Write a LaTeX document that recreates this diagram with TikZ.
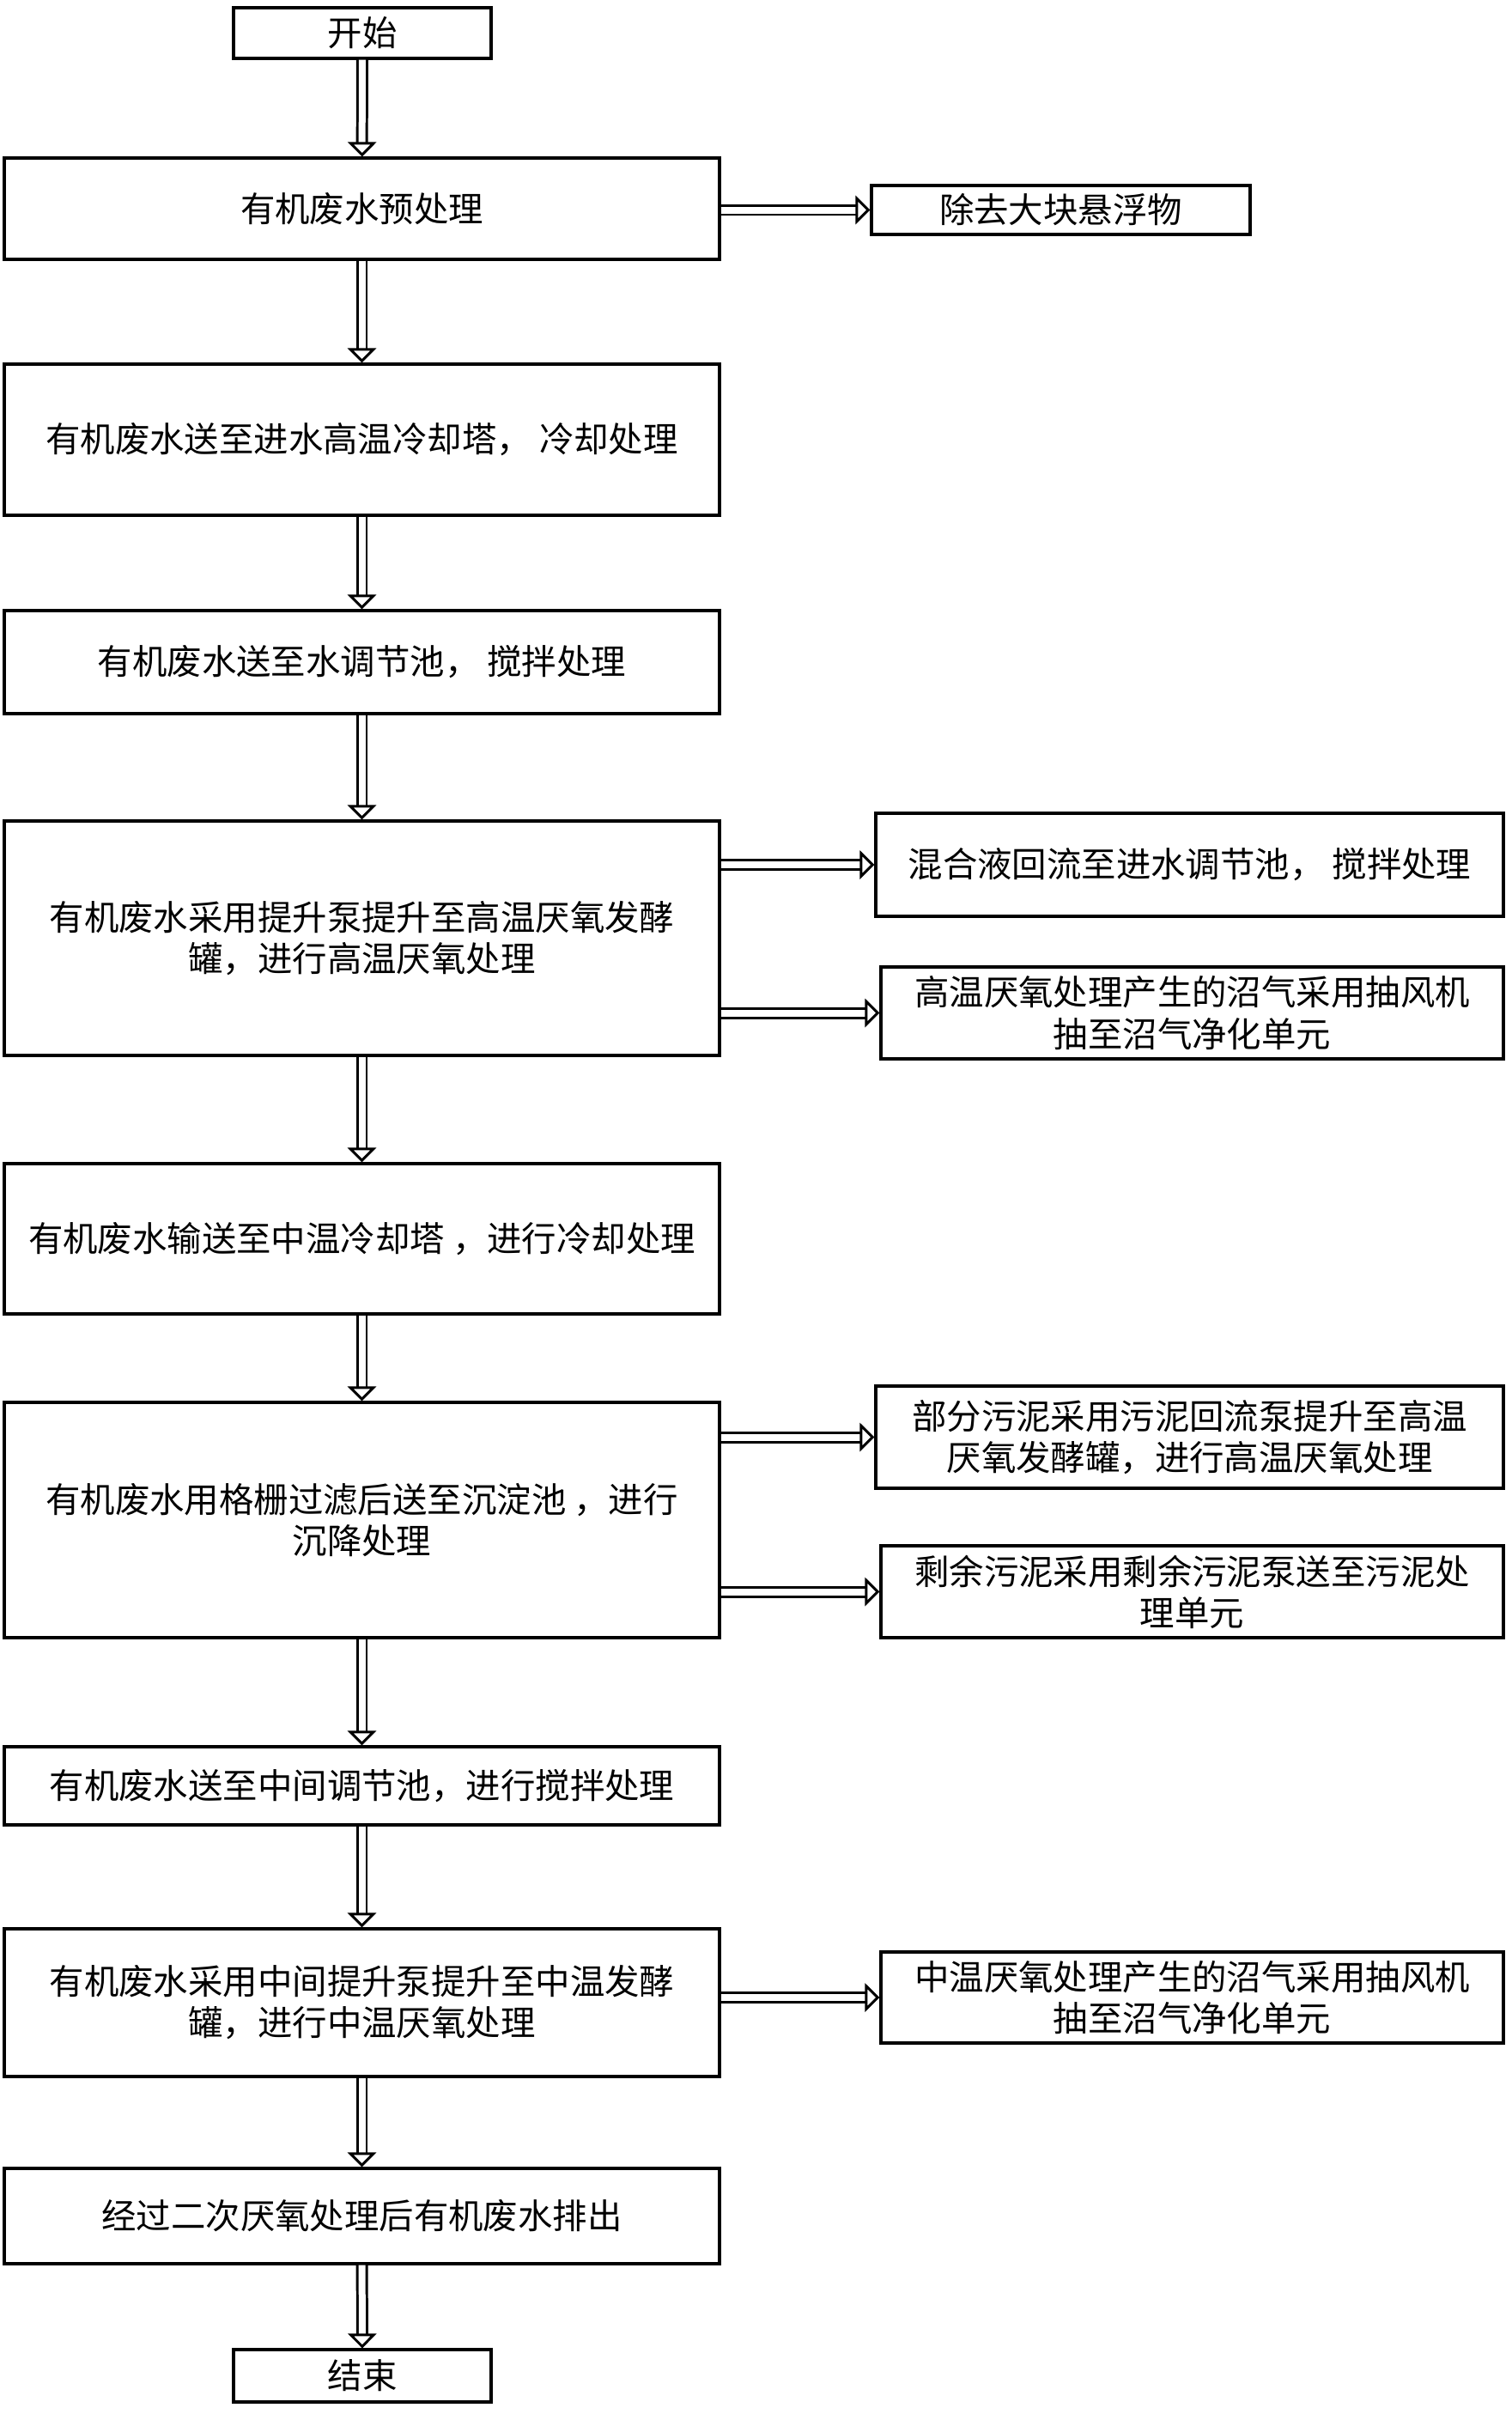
\documentclass[tikz,border=0pt]{standalone}
\usepackage{fontspec}
\setmainfont{Noto Sans CJK SC}
\usepackage{tikz}
\usetikzlibrary{arrows.meta,positioning}

\tikzset{
  stepbox/.style={draw, line width=0.9pt, minimum width=8.33cm, align=center, inner sep=0pt,
    font=\fontsize{11.5pt}{13.7pt}\selectfont},
  sidebox/.style={draw, line width=0.9pt, align=center, inner sep=0pt,
    font=\fontsize{11.5pt}{13.7pt}\selectfont},
  flow/.style={double, line width=0.85pt, double distance=0.08cm,
    -{Triangle[open, fill=white, length=0.17cm, width=0.33cm, line width=0.85pt]}},
}

\begin{document}
\begin{tikzpicture}
            \useasboundingbox (0, 0) rectangle (17.6, -28.11);
            \node[stepbox, minimum width=3cm, minimum height=0.59cm] (start) at (4.22, -0.385) {开始};
            \node[stepbox, minimum height=1.18cm] (pre) at (4.215, -2.43) {有机废水预处理};
            \node[sidebox, minimum width=4.41cm, minimum height=0.57cm] (solid) at (12.355, -2.445) {除去大块悬浮物};
            \node[stepbox, minimum height=1.76cm] (cool1) at (4.215, -5.12) {有机废水送至进水高温冷却塔， 冷却处理};
            \node[stepbox, minimum height=1.2cm] (tank1) at (4.215, -7.71) {有机废水送至水调节池， 搅拌处理};
            \node[stepbox, minimum height=2.73cm] (hot) at (4.215, -10.925) {有机废水采用提升泵提升至高温厌氧发酵\\罐，进行高温厌氧处理};
            \node[sidebox, minimum width=7.31cm, minimum height=1.2cm] (mix) at (13.855, -10.07) {混合液回流至进水调节池， 搅拌处理};
            \node[sidebox, minimum width=7.25cm, minimum height=1.07cm] (gas1) at (13.885, -11.795) {高温厌氧处理产生的沼气采用抽风机\\抽至沼气净化单元};
            \node[stepbox, minimum height=1.75cm] (cool2) at (4.215, -14.425) {有机废水输送至中温冷却塔 ，进行冷却处理};
            \node[stepbox, minimum height=2.74cm] (settle) at (4.215, -17.7) {有机废水用格栅过滤后送至沉淀池 ，进行\\沉降处理};
            \node[sidebox, minimum width=7.31cm, minimum height=1.19cm] (back) at (13.855, -16.735) {部分污泥采用污泥回流泵提升至高温\\厌氧发酵罐，进行高温厌氧处理};
            \node[sidebox, minimum width=7.25cm, minimum height=1.07cm] (rest) at (13.885, -18.535) {剩余污泥采用剩余污泥泵送至污泥处\\理单元};
            \node[stepbox, minimum height=0.91cm] (tank2) at (4.215, -20.795) {有机废水送至中间调节池，进行搅拌处理};
            \node[stepbox, minimum height=1.72cm] (mid) at (4.215, -23.32) {有机废水采用中间提升泵提升至中温发酵\\罐，进行中温厌氧处理};
            \node[sidebox, minimum width=7.25cm, minimum height=1.06cm] (gas2) at (13.885, -23.26) {中温厌氧处理产生的沼气采用抽风机\\抽至沼气净化单元};
            \node[stepbox, minimum height=1.11cm] (out) at (4.215, -25.805) {经过二次厌氧处理后有机废水排出};
            \node[stepbox, minimum width=3cm, minimum height=0.61cm] (end) at (4.22, -27.665) {结束};

            \draw[flow] (start) -- (pre);
            \draw[flow] (pre) -- (cool1);
            \draw[flow] (cool1) -- (tank1);
            \draw[flow] (tank1) -- (hot);
            \draw[flow] (hot) -- (cool2);
            \draw[flow] (cool2) -- (settle);
            \draw[flow] (settle) -- (tank2);
            \draw[flow] (tank2) -- (mid);
            \draw[flow] (mid) -- (out);
            \draw[flow] (out) -- (end);

            \draw[flow] (pre.east |- solid.west) -- (solid.west);
            \draw[flow] (hot.east |- mix.west) -- (mix.west);
            \draw[flow] (hot.east |- gas1.west) -- (gas1.west);
            \draw[flow] (settle.east |- back.west) -- (back.west);
            \draw[flow] (settle.east |- rest.west) -- (rest.west);
            \draw[flow] (mid.east |- gas2.west) -- (gas2.west);
\end{tikzpicture}
\end{document}
